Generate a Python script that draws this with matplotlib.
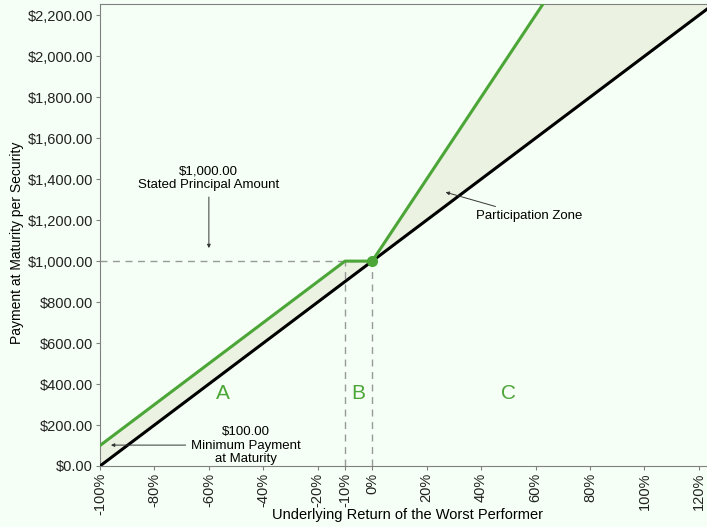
import numpy as np
import matplotlib
matplotlib.use('Agg')
import matplotlib.pyplot as plt
from matplotlib.ticker import FuncFormatter

plt.rcParams['font.family'] = ['Liberation Sans', 'DejaVu Sans']

# payoff data (underlying return in %, payment in $)
returns = [-100, -10, 0, 62.5, 123]
payment = [100, 1000, 1000, 2250, 3460]
stock = [0, 900, 1000, 1625, 2230]
x_ticks = [-100, -80, -60, -40, -20, -10, 0, 20, 40, 60, 80, 100, 120]
y_ticks = [0, 200, 400, 600, 800, 1000, 1200, 1400, 1600, 1800, 2000, 2200]
zone_labels = ['A', 'B', 'C']
zone_x = [-55, -5, 50]

green = '#4ba637'
bg = '#f5fff5'
fill = '#ebf2e1'

fig = plt.figure(figsize=(7.07, 5.27), dpi=100)
fig.patch.set_facecolor(bg)
ax = fig.add_axes([100 / 707, 61 / 527, 607 / 707, 462 / 527])
ax.set_facecolor(bg)

r = np.array(returns, dtype=float)
ax.fill_between(r, payment, stock, color=fill, zorder=1)
ax.plot(r, stock, color='black', lw=2.2, zorder=3)
ax.plot(r, payment, color=green, lw=2.2, zorder=4)
ax.plot([0], [1000], 'o', color=green, ms=7, zorder=5)

# dashed guides
ax.plot([-100, 0], [1000, 1000], ls=(0, (5, 4)), color='#999999', lw=1, zorder=2)
ax.plot([-10, -10], [0, 1000], ls=(0, (5, 4)), color='#999999', lw=1, zorder=2)
ax.plot([0, 0], [0, 1000], ls=(0, (5, 4)), color='#999999', lw=1, zorder=2)

for lab, xz in zip(zone_labels, zone_x):
    ax.text(xz, 352, lab, color=green, fontsize=15, ha='center', va='center')

arrow = dict(arrowstyle='-|>', color='#333333', lw=0.7, mutation_scale=5)
ax.annotate('$1,000.00\nStated Principal Amount', xy=(-60, 1050), xytext=(-60, 1340),
            ha='center', va='bottom', fontsize=9.5, arrowprops=arrow, linespacing=1.2)
ax.annotate('Participation Zone', xy=(26, 1340), xytext=(38, 1220),
            ha='left', va='center', fontsize=9.5, arrowprops=arrow)
ax.text(-46.5, 100, '$100.00\nMinimum Payment\nat Maturity', ha='center', va='center',
        fontsize=9.5, linespacing=1.2)
ax.annotate('', xy=(-97, 102), xytext=(-67.5, 102), arrowprops=arrow)

ax.set_xlim(-100, 123)
ax.set_ylim(0, 2255)
ax.set_xticks(x_ticks)
ax.set_xticklabels([f'{t}%' for t in x_ticks], rotation=90)
ax.set_yticks(y_ticks)
ax.yaxis.set_major_formatter(FuncFormatter(lambda v, p: f'${v:,.2f}'))
ax.tick_params(labelsize=10.5, colors='#222222', length=3, color='#808080', pad=2)

for s in ['left', 'bottom', 'top']:
    ax.spines[s].set_color('#808080')
ax.spines['right'].set_visible(False)

fig.text(17 / 707, 1 - 243 / 527, 'Payment at Maturity per Security', rotation=90,
         ha='center', va='center', fontsize=10)
fig.text(407 / 707, 1 - 515 / 527, 'Underlying Return of the Worst Performer',
         ha='center', va='center', fontsize=10.5)

fig.savefig('out.png', dpi=100, facecolor=bg)
